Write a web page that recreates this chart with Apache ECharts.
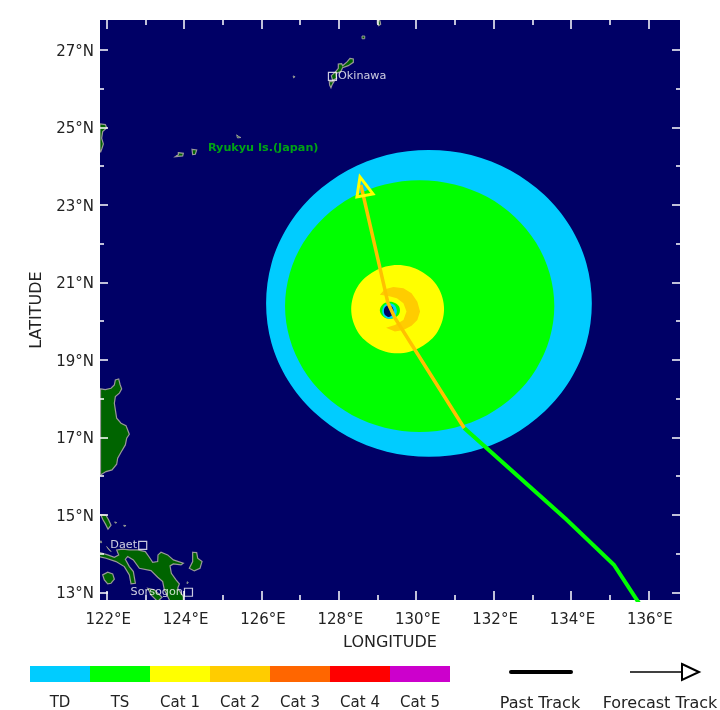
<!DOCTYPE html>
<html>
<head>
    <meta charset="utf-8">
    <title>Storm wind swath</title>
    <script src="https://cdn.jsdelivr.net/npm/echarts@6/dist/echarts.min.js"></script>
    <style>
        html, body { margin: 0; padding: 0; background: #fff; }
        #chart1 { width: 720px; height: 710px; }
    </style>
</head>
<body>
<div id="chart1"></div>
<script type="text/javascript">
    // axes
    var lonLabelTicks = [122, 124, 126, 128, 130, 132, 134, 136];
    var lonMinorTicks = [123, 125, 127, 129, 131, 133, 135];
    var latLabelTicks = [13, 15, 17, 19, 21, 23, 25, 27];
    var latMinorTicks = [14, 16, 18, 20, 22, 24, 26];

    // key
    var keyNames = ['TD', 'TS', 'Cat 1', 'Cat 2', 'Cat 3', 'Cat 4', 'Cat 5'];
    var keyColors = ['#00ccff', '#00ff00', '#ffff00', '#ffcc00', '#ff6600', '#ff0000', '#cc00cc'];
    var keyValues = [1, 1, 1, 1, 1, 1, 1];

    // wind swath outlines, [lon, lat]
    var swathTD = [[134.54,20.46],[134.40,21.49],[133.98,22.44],[133.31,23.26],[132.44,23.89],[131.42,24.29],[130.33,24.42],[129.24,24.29],[128.22,23.89],[127.35,23.26],[126.68,22.44],[126.26,21.49],[126.12,20.46],[126.26,19.43],[126.68,18.48],[127.35,17.66],[128.22,17.03],[129.24,16.63],[130.33,16.50],[131.42,16.63],[132.44,17.03],[133.31,17.66],[133.98,18.48],[134.40,19.43]];
    var swathTS = [[133.57,20.39],[133.45,21.23],[133.10,22.02],[132.55,22.69],[131.83,23.21],[130.99,23.53],[130.09,23.64],[129.19,23.53],[128.35,23.21],[127.63,22.69],[127.08,22.02],[126.73,21.23],[126.61,20.39],[126.73,19.55],[127.08,18.76],[127.63,18.09],[128.35,17.57],[129.19,17.25],[130.09,17.14],[130.99,17.25],[131.83,17.57],[132.55,18.09],[133.10,18.76],[133.45,19.55]];
    var swathCat1 = [[130.72,20.31],[130.68,20.60],[130.56,20.88],[130.37,21.11],[130.12,21.29],[129.83,21.41],[129.52,21.45],[129.21,21.41],[128.92,21.29],[128.67,21.11],[128.48,20.88],[128.36,20.60],[128.32,20.31],[128.36,20.02],[128.48,19.74],[128.67,19.51],[128.92,19.33],[129.21,19.21],[129.52,19.17],[129.83,19.21],[130.12,19.33],[130.37,19.51],[130.56,19.74],[130.68,20.02]];
    var swathCat2 = [[129.06,20.68],[129.19,20.82],[129.41,20.88],[129.67,20.85],[129.88,20.72],[130.03,20.50],[130.10,20.25],[130.03,20.03],[129.88,19.88],[129.67,19.77],[129.45,19.73],[129.22,19.83],[129.45,19.90],[129.67,20.03],[129.75,20.25],[129.67,20.46],[129.50,20.59],[129.28,20.65]];
    var eyeTS = [[129.58,20.28],[129.55,20.39],[129.45,20.47],[129.32,20.50],[129.19,20.47],[129.10,20.39],[129.06,20.28],[129.10,20.17],[129.19,20.09],[129.32,20.06],[129.45,20.09],[129.55,20.17]];
    var eyeTD = [[129.50,20.26],[129.475,20.36],[129.405,20.435],[129.31,20.46],[129.215,20.435],[129.145,20.36],[129.12,20.26],[129.145,20.16],[129.215,20.09],[129.31,20.06],[129.405,20.09],[129.475,20.16]];
    var eyeCalm = [[129.415,20.26],[129.40,20.34],[129.35,20.39],[129.29,20.415],[129.23,20.39],[129.18,20.34],[129.165,20.26],[129.18,20.18],[129.23,20.13],[129.29,20.105],[129.35,20.13],[129.40,20.18]];

    // land, [lon, lat]
    var luzonNorth = [[121.84,18.25],[121.965,18.232],[122.112,18.267],[122.198,18.353],[122.224,18.482],[122.310,18.508],[122.344,18.370],[122.387,18.250],[122.327,18.138],[122.224,18.052],[122.198,17.880],[122.224,17.708],[122.258,17.492],[122.370,17.363],[122.499,17.303],[122.585,17.079],[122.517,16.976],[122.482,16.804],[122.370,16.615],[122.284,16.460],[122.258,16.305],[122.138,16.159],[121.982,16.116],[121.84,16.03]];
    var luzonSmall = [[121.845,15.005],[121.982,14.988],[122.051,14.868],[122.112,14.730],[122.034,14.627],[121.965,14.765],[121.896,14.885]];
    var bicol = [[121.72,14.05],[122.026,13.964],[122.198,13.904],[122.310,13.964],[122.258,14.093],[122.413,14.111],[122.586,14.093],[122.801,14.093],[122.999,14.050],[123.102,13.904],[123.189,13.775],[123.318,13.792],[123.326,13.964],[123.404,14.033],[123.576,13.964],[123.723,13.835],[123.981,13.749],[123.921,13.706],[123.723,13.732],[123.637,13.680],[123.671,13.491],[123.792,13.319],[123.878,13.216],[123.835,13.104],[123.981,12.889],[123.981,12.717],[123.662,12.717],[123.490,13.061],[123.447,13.276],[123.318,13.388],[123.145,13.560],[122.844,13.620],[122.689,13.835],[122.542,13.921],[122.482,13.853],[122.586,13.663],[122.689,13.534],[122.741,13.233],[122.629,13.216],[122.586,13.448],[122.456,13.663],[122.241,13.792],[121.982,13.878],[121.72,13.939]];
    var sorsogonBit = [[123.059,13.104],[123.232,13.061],[123.430,12.872],[123.318,12.76],[123.145,12.932]];
    var marinduque = [[121.896,13.448],[122.026,13.517],[122.155,13.474],[122.198,13.336],[122.112,13.233],[122.026,13.216],[121.939,13.319]];
    var catanduanes = [[124.222,14.033],[124.326,14.025],[124.352,13.878],[124.464,13.792],[124.412,13.620],[124.265,13.551],[124.136,13.620],[124.222,13.792]];
    var okinawaMain = [[128.288,26.784],[128.375,26.767],[128.375,26.681],[128.245,26.595],[128.099,26.544],[128.047,26.440],[127.927,26.397],[127.944,26.268],[127.840,26.217],[127.806,26.337],[127.901,26.423],[127.987,26.526],[127.987,26.638],[128.073,26.647],[128.099,26.595],[128.219,26.699]];
    var okinawaSouth = [[127.754,26.182],[127.875,26.182],[127.823,26.096],[127.797,26.027],[127.763,26.096]];
    var amamiEdge = [[128.995,27.783],[129.064,27.748],[129.081,27.662],[129.029,27.628],[128.995,27.688]];
    var taiwanEdge = [[121.827,25.09],[121.965,25.073],[122.0,24.987],[121.896,24.892],[121.870,24.720],[121.914,24.574],[121.879,24.462],[121.845,24.367],[121.827,24.367]];
    var iriomote = [[123.852,24.350],[123.981,24.333],[123.964,24.264],[123.774,24.247],[123.852,24.298]];
    var ishigaki = [[124.205,24.436],[124.326,24.419],[124.291,24.307],[124.222,24.298]];
    var tinyIslands = [
        [[125.36,24.81],[125.42,24.76],[125.47,24.74],[125.38,24.73]],
        [[128.60,27.36],[128.67,27.36],[128.67,27.29],[128.60,27.29]],
        [[126.82,26.33],[126.87,26.31],[126.83,26.28]],
        [[122.206,14.816],[122.258,14.80],[122.23,14.78]],
        [[122.44,14.73],[122.50,14.72],[122.45,14.70]],
        [[122.0,14.18],[122.11,14.05],[122.04,14.12]],
        [[121.85,14.33],[121.87,14.28],[121.84,14.28]],
        [[124.08,13.27],[124.11,13.25],[124.08,13.22]]
    ];

    // track, [lon, lat]
    var pastTrack = [[136.04,12.29],[135.11,13.71],[133.87,14.89],[131.24,17.24]];
    var forecastTrack = [[131.24,17.24],[129.45,20.08],[129.27,20.47],[128.57,23.52]];
    var forecastArrow = [[128.547,23.722],[128.469,23.205],[128.883,23.283]];

    // places on the map
    var placeNames = ['Okinawa', 'Daet', 'Sorsogon'];
    var placeLon = [127.835, 122.931, 124.114];
    var placeLat = [26.316, 14.21, 13.0];
    var placeSide = ['right', 'left', 'left'];

    var fontName = '"DejaVu Sans"';
    var textColor = '#222';

    function polySeries(polys, fill, stroke, lineWidth, z, smooth) {
        return {
            type: 'custom',
            coordinateSystem: 'cartesian2d',
            clip: true,
            silent: true,
            z: z,
            data: polys.map(function (p) { return p[0]; }),
            renderItem: function (params, api) {
                var pts = polys[params.dataIndex].map(function (p) { return api.coord(p); });
                return {
                    type: 'polygon',
                    shape: { points: pts, smooth: smooth || 0 },
                    style: { fill: fill, stroke: stroke, lineWidth: lineWidth, lineJoin: 'miter' }
                };
            }
        };
    }

    function trackSeries(points, color, width, z) {
        return {
            type: 'line',
            data: points,
            showSymbol: false,
            silent: true,
            z: z,
            lineStyle: { color: color, width: width, join: 'miter' }
        };
    }

    var lonMin = 121.827, lonMax = 136.819, latMin = 12.80, latMax = 27.774;

    function lonAxis(position, values, length, labels) {
        return {
            type: 'value', gridIndex: 0, position: position, min: lonMin, max: lonMax, z: 10,
            axisLine: { show: false }, splitLine: { show: false },
            axisTick: { show: true, inside: true, length: length, customValues: values, lineStyle: { color: '#fff', width: 1.5 } },
            axisLabel: labels ? {
                show: true, customValues: values, margin: 13, padding: [0, 0, 0, 3], fontFamily: fontName, fontSize: 15, color: textColor,
                formatter: function (v) { return v + '°E'; }
            } : { show: false }
        };
    }

    function latAxis(position, values, length, labels) {
        return {
            type: 'value', gridIndex: 0, position: position, min: latMin, max: latMax, z: 10,
            axisLine: { show: false }, splitLine: { show: false },
            axisTick: { show: true, inside: true, length: length, customValues: values, lineStyle: { color: '#fff', width: 1.5 } },
            axisLabel: labels ? {
                show: true, customValues: values, margin: 6, verticalAlign: 'top', lineHeight: 4, fontFamily: fontName, fontSize: 15, color: textColor,
                formatter: function (v) { return v + '°N'; }
            } : { show: false }
        };
    }

    var xMain = lonAxis('bottom', lonLabelTicks, 9, true);
    xMain.name = 'LONGITUDE';
    xMain.nameLocation = 'middle';
    xMain.nameGap = 35;
    xMain.nameTextStyle = { fontFamily: fontName, fontSize: 16, color: textColor };
    var yMain = latAxis('left', latLabelTicks, 8, true);
    yMain.name = 'LATITUDE';
    yMain.nameLocation = 'middle';
    yMain.nameRotate = 90;
    yMain.nameGap = 48;
    yMain.nameTextStyle = { fontFamily: fontName, fontSize: 16, color: textColor };

    var myChart1 = echarts.init(document.getElementById('chart1'), null, { renderer: 'canvas' });
    myChart1.setOption({
        animation: false,
        backgroundColor: '#fff',
        grid: [
            { left: 100, top: 20, width: 580, height: 580, show: true, backgroundColor: '#000066', borderWidth: 0, outerBoundsMode: 'none' },
            { left: 30, top: 666, width: 420, height: 16, show: false, outerBoundsMode: 'none' }
        ],
        xAxis: [
            xMain,
            lonAxis('top', lonLabelTicks, 9, false),
            lonAxis('bottom', lonMinorTicks, 5, false),
            lonAxis('top', lonMinorTicks, 5, false),
            {
                type: 'category', gridIndex: 1, data: keyNames,
                axisLine: { show: false }, axisTick: { show: false },
                axisLabel: { margin: 14, interval: 0, fontFamily: fontName, fontSize: 15, color: textColor }
            }
        ],
        yAxis: [
            yMain,
            latAxis('right', latLabelTicks, 8, false),
            latAxis('left', latMinorTicks, 4, false),
            latAxis('right', latMinorTicks, 4, false),
            { type: 'value', gridIndex: 1, min: 0, max: 1, show: false }
        ],
        series: [
            polySeries([swathTD], '#00ccff', 'none', 0, 2, 0.33),
            polySeries([swathTS], '#00ff00', 'none', 0, 3, 0.33),
            polySeries([swathCat1], '#ffff00', 'none', 0, 4, 0.33),
            polySeries([swathCat2], '#ffcc00', 'none', 0, 5),
            polySeries([eyeTS], '#00ff00', 'none', 0, 6, 0.33),
            polySeries([eyeTD], '#00ccff', 'none', 0, 7, 0.33),
            polySeries([eyeCalm], '#000066', 'none', 0, 8, 0.33),
            polySeries([luzonNorth, luzonSmall, bicol, sorsogonBit, marinduque, catanduanes, okinawaMain, okinawaSouth, amamiEdge, taiwanEdge, iriomote, ishigaki], '#006400', '#999999', 1.2, 9),
            polySeries(tinyIslands, '#006400', '#999999', 1, 9),
            trackSeries(pastTrack, '#00ff00', 4, 11),
            trackSeries(forecastTrack, '#ffc000', 3.5, 12),
            polySeries([forecastArrow], 'none', '#ffff00', 3, 13),
            {
                // city markers
                type: 'scatter', silent: true, z: 14, symbol: 'rect', symbolSize: 8,
                itemStyle: { color: 'rgba(0,0,0,0)', borderColor: '#fff', borderWidth: 1.2 },
                data: placeNames.map(function (name, i) {
                    return {
                        name: name,
                        value: [placeLon[i], placeLat[i]],
                        label: {
                            show: true, position: placeSide[i], distance: 1, formatter: name,
                            fontFamily: fontName, fontSize: 11.2, color: '#fff'
                        }
                    };
                })
            },
            {
                // region name, no marker
                type: 'scatter', silent: true, z: 14, symbolSize: 0,
                data: [{
                    name: 'Ryukyu Is.(Japan)',
                    value: [124.618, 24.47],
                    label: {
                        show: true, position: 'right', distance: 0, formatter: 'Ryukyu Is.(Japan)',
                        fontFamily: fontName, fontSize: 11.2, fontWeight: 'bold', color: '#00cc00'
                    }
                }]
            },
            {
                // colour key
                type: 'bar', xAxisIndex: 4, yAxisIndex: 4, silent: true, barCategoryGap: '0%',
                data: keyValues.map(function (v, i) {
                    return { value: v, itemStyle: { color: keyColors[i] } };
                })
            }
        ],
        graphic: [
            { type: 'line', silent: true, shape: { x1: 511, y1: 672, x2: 571, y2: 672 }, style: { stroke: '#000', lineWidth: 4, lineCap: 'round' } },
            { type: 'text', silent: true, style: { x: 540, y: 704, text: 'Past Track', align: 'center', verticalAlign: 'middle', font: '16px ' + fontName, fill: textColor } },
            { type: 'line', silent: true, shape: { x1: 630, y1: 672, x2: 683, y2: 672 }, style: { stroke: '#000', lineWidth: 1.5 } },
            { type: 'polygon', silent: true, shape: { points: [[682, 664], [699, 672], [682, 680]] }, style: { fill: 'none', stroke: '#000', lineWidth: 2 } },
            { type: 'text', silent: true, style: { x: 660, y: 704, text: 'Forecast Track', align: 'center', verticalAlign: 'middle', font: '16px ' + fontName, fill: textColor } }
        ]
    });
</script>
</body>
</html>
